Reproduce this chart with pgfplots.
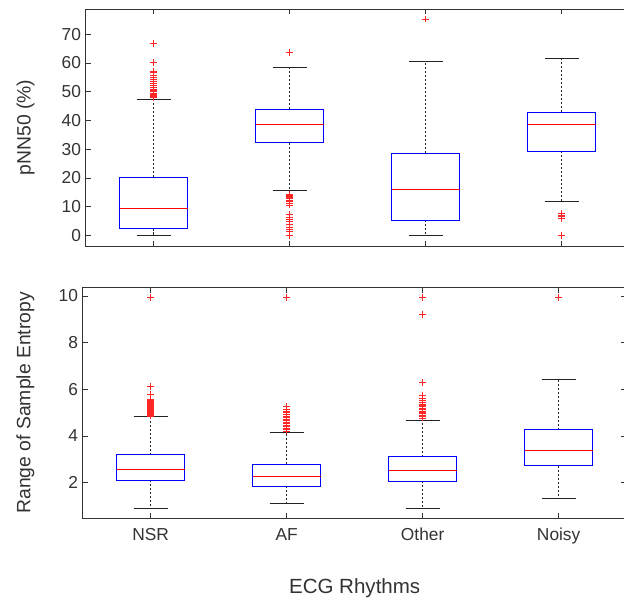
\documentclass[border=0pt]{standalone}
\usepackage{fontspec}
\setmainfont{Liberation Sans}
\usepackage{pgfplots}
\pgfplotsset{compat=1.18}
\usepgfplotslibrary{statistics}
\definecolor{axgray}{HTML}{333333}
\definecolor{wcol}{HTML}{222222}

\pgfplotsset{
  ecgbox/.style={
    scale only axis,
    width=408pt,
    xmin=0.5, xmax=4.5,
    xtick={1,2,3,4},
    axis line style={axgray, line width=0.5pt},
    tick style={axgray, line width=0.5pt},
    major tick length=4.1pt,
    tick align=inside,
    /pgf/number format/assume math mode=true,
    ticklabel style={font=\fontsize{13}{15}\selectfont, text=axgray},
    ylabel style={font=\fontsize{14.5}{17}\selectfont, text=axgray, anchor=base},
    boxplot/draw direction=y,
    boxplot/every box/.style={draw=blue, line width=0.6pt, solid},
    boxplot/every median/.style={draw=red, line width=0.6pt, solid},
    boxplot/draw/lower whisker/.code={
      \draw[wcol, line width=0.5pt, dash pattern=on 1.6pt off 1.4pt]
        (boxplot cs:\pgfplotsboxplotvalue{lower quartile}) --
        (boxplot cs:\pgfplotsboxplotvalue{lower whisker});
      \draw[wcol, line width=0.6pt]
        (boxplot whisker cs:\pgfplotsboxplotvalue{lower whisker},0) --
        (boxplot whisker cs:\pgfplotsboxplotvalue{lower whisker},1);
    },
    boxplot/draw/upper whisker/.code={
      \draw[wcol, line width=0.5pt, dash pattern=on 1.6pt off 1.4pt]
        (boxplot cs:\pgfplotsboxplotvalue{upper quartile}) --
        (boxplot cs:\pgfplotsboxplotvalue{upper whisker});
      \draw[wcol, line width=0.6pt]
        (boxplot whisker cs:\pgfplotsboxplotvalue{upper whisker},0) --
        (boxplot whisker cs:\pgfplotsboxplotvalue{upper whisker},1);
    },
  },
  outl/.style={draw=black, solid, mark=+, mark size=2.5pt,
    mark options={draw=red!85, line width=0.45pt, solid}},
}

\begin{document}
\begin{tikzpicture}
\useasboundingbox (0pt,0pt) rectangle (468pt,449.25pt);
\begin{scope}[overlay]
% top: pNN50
\begin{axis}[ecgbox,
  at={(64.3pt,264.75pt)}, anchor=south west,
  height=177.75pt,
  ymin=-3.7, ymax=78.8,
  ytick={0,10,...,70},
  xticklabels={},
  ylabel={pNN50 (\%)},
  ylabel style={at={(axis description cs:-0.1015,0.5)}},
]
\addplot[outl, boxplot prepared={draw position=1, box extend=0.5, whisker extend=0.25,
  lower whisker=0, lower quartile=2.4, median=9.4, upper quartile=20.3, upper whisker=47.4}]
  table[row sep=\\, y index=0] {v\\ 47.9\\ 48.3\\ 48.7\\ 49.1\\ 49.5\\ 50.0\\ 50.5\\ 51.0\\ 51.6\\ 52.2\\ 52.8\\ 53.5\\ 54.3\\ 55.0\\ 55.8\\ 56.6\\ 57.2\\ 60.2\\ 66.8\\};
\addplot[outl, boxplot prepared={draw position=2, box extend=0.5, whisker extend=0.25,
  lower whisker=15.5, lower quartile=32.3, median=38.7, upper quartile=43.9, upper whisker=58.5}]
  table[row sep=\\, y index=0] {v\\ 63.6\\ 14.4\\ 14.0\\ 13.6\\ 13.2\\ 12.8\\ 12.3\\ 11.8\\ 11.2\\ 10.6\\ 7.2\\ 6.4\\ 5.6\\ 4.8\\ 3.7\\ 2.9\\ 2.1\\ 1.4\\ 0\\};
\addplot[outl, boxplot prepared={draw position=3, box extend=0.5, whisker extend=0.25,
  lower whisker=0, lower quartile=5.3, median=16.1, upper quartile=28.6, upper whisker=60.6}]
  table[row sep=\\, y index=0] {v\\ 75.3\\};
\addplot[outl, boxplot prepared={draw position=4, box extend=0.5, whisker extend=0.25,
  lower whisker=11.8, lower quartile=29.3, median=38.7, upper quartile=42.9, upper whisker=61.7}]
  table[row sep=\\, y index=0] {v\\ 7.6\\ 7.0\\ 6.6\\ 5.9\\ 0\\};
\end{axis}

% bottom: range of sample entropy
\begin{axis}[ecgbox,
  at={(62.0pt,60.5pt)}, anchor=south west,
  height=173.25pt,
  ymin=0.474, ymax=10.37,
  ytick={2,4,...,10},
  xticklabels={NSR, AF, Other, Noisy},
  xticklabel style={anchor=base, yshift=-17pt},
  ylabel={Range of Sample Entropy},
  ylabel style={at={(axis description cs:-0.096,0.5)}},
  xlabel={ECG Rhythms},
  xlabel style={font=\fontsize{15.4}{18}\selectfont, text=axgray, anchor=base,
    at={(axis description cs:0.5,-0.324)}},
]
\addplot[outl, boxplot prepared={draw position=1, box extend=0.5, whisker extend=0.25,
  lower whisker=0.92, lower quartile=2.12, median=2.57, upper quartile=3.20, upper whisker=4.82}]
  table[row sep=\\, y index=0] {v\\ 9.93\\ 6.11\\ 5.80\\ 5.58\\ 5.54\\ 5.50\\ 5.46\\ 5.42\\ 5.38\\ 5.34\\ 5.30\\ 5.26\\ 5.22\\ 5.18\\ 5.14\\ 5.10\\ 5.06\\ 5.02\\ 4.98\\ 4.94\\ 4.90\\ 4.86\\};
\addplot[outl, boxplot prepared={draw position=2, box extend=0.5, whisker extend=0.25,
  lower whisker=1.12, lower quartile=1.86, median=2.26, upper quartile=2.79, upper whisker=4.17}]
  table[row sep=\\, y index=0] {v\\ 9.93\\ 5.26\\ 5.15\\ 5.08\\ 5.00\\ 4.93\\ 4.86\\ 4.80\\ 4.73\\ 4.66\\ 4.60\\ 4.53\\ 4.47\\ 4.40\\ 4.34\\ 4.28\\ 4.22\\};
\addplot[outl, boxplot prepared={draw position=3, box extend=0.5, whisker extend=0.25,
  lower whisker=0.92, lower quartile=2.07, median=2.53, upper quartile=3.11, upper whisker=4.67}]
  table[row sep=\\, y index=0] {v\\ 9.93\\ 9.22\\ 6.30\\ 5.74\\ 5.62\\ 5.52\\ 5.45\\ 5.38\\ 5.32\\ 5.26\\ 5.20\\ 5.14\\ 5.08\\ 5.02\\ 4.96\\ 4.90\\ 4.84\\ 4.78\\};
\addplot[outl, boxplot prepared={draw position=4, box extend=0.5, whisker extend=0.25,
  lower whisker=1.33, lower quartile=2.73, median=3.39, upper quartile=4.27, upper whisker=6.44}]
  table[row sep=\\, y index=0] {v\\ 9.93\\};
\end{axis}
\end{scope}
\end{tikzpicture}
\end{document}
